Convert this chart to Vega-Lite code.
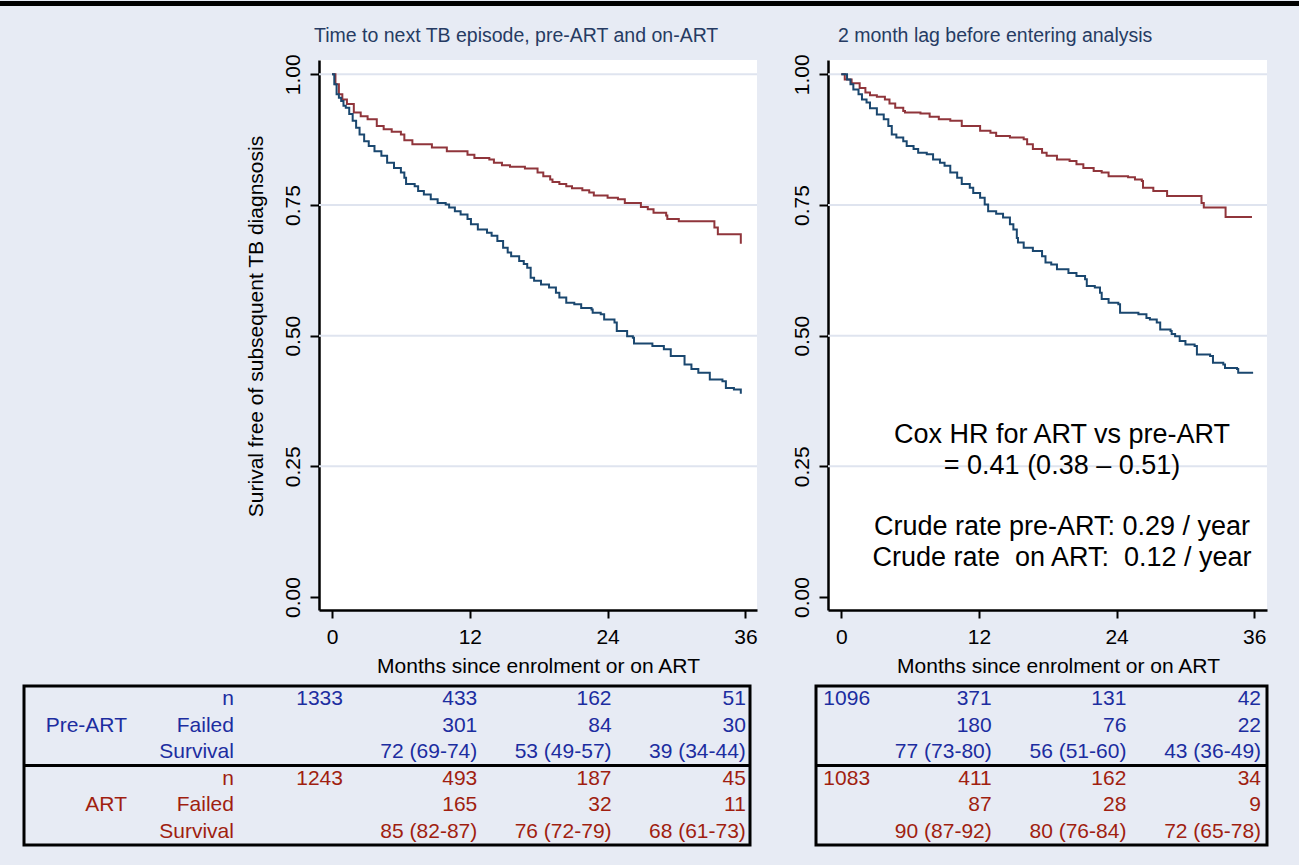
{
  "$schema": "https://vega.github.io/schema/vega-lite/v6.json",
  "background": "#e7ebf4",
  "padding": {"left": 0, "top": 0, "right": 0, "bottom": 18},
  "config": {
    "font": "Liberation Sans",
    "view": {"stroke": null},
    "axis": {"domainColor": "black", "domainWidth": 2.5, "tickColor": "black", "tickWidth": 2, "labelFontSize": 21, "labelColor": "black", "labelFont": "Liberation Sans", "titleFontSize": 21, "titleFontWeight": "normal", "titleColor": "black", "titleFont": "Liberation Sans", "grid": false, "labelFlush": false, "labelOverlap": false},
    "axisX": {"tickSize": 8, "labelPadding": 8, "titlePadding": 8},
    "axisY": {"tickSize": 9, "labelPadding": 11, "labelAngle": -90, "labelAlign": "center", "labelBaseline": "alphabetic", "titlePadding": 16},
    "title": {"fontSize": 19.5, "fontWeight": "normal", "color": "#263b63", "anchor": "start", "frame": "group", "offset": 7, "font": "Liberation Sans"}
  },
  "datasets": {
    "grid": [{"level": 0.25}, {"level": 0.5}, {"level": 0.75}, {"level": 1}],
    "km": [
      {"panel": "A", "group": "ART", "month": 0, "survival": 1},
      {"panel": "A", "group": "ART", "month": 0.3, "survival": 0.981},
      {"panel": "A", "group": "ART", "month": 0.6, "survival": 0.962},
      {"panel": "A", "group": "ART", "month": 0.9, "survival": 0.952},
      {"panel": "A", "group": "ART", "month": 1.3, "survival": 0.943},
      {"panel": "A", "group": "ART", "month": 1.9, "survival": 0.927},
      {"panel": "A", "group": "ART", "month": 2.5, "survival": 0.92},
      {"panel": "A", "group": "ART", "month": 3.1, "survival": 0.914},
      {"panel": "A", "group": "ART", "month": 3.9, "survival": 0.901},
      {"panel": "A", "group": "ART", "month": 4.5, "survival": 0.895},
      {"panel": "A", "group": "ART", "month": 5.2, "survival": 0.89},
      {"panel": "A", "group": "ART", "month": 6.0, "survival": 0.885},
      {"panel": "A", "group": "ART", "month": 6.3, "survival": 0.874},
      {"panel": "A", "group": "ART", "month": 7.0, "survival": 0.866},
      {"panel": "A", "group": "ART", "month": 8.7, "survival": 0.86},
      {"panel": "A", "group": "ART", "month": 10.0, "survival": 0.853},
      {"panel": "A", "group": "ART", "month": 11.8, "survival": 0.846},
      {"panel": "A", "group": "ART", "month": 12.4, "survival": 0.84},
      {"panel": "A", "group": "ART", "month": 13.7, "survival": 0.837},
      {"panel": "A", "group": "ART", "month": 14.1, "survival": 0.831},
      {"panel": "A", "group": "ART", "month": 14.8, "survival": 0.826},
      {"panel": "A", "group": "ART", "month": 15.5, "survival": 0.823},
      {"panel": "A", "group": "ART", "month": 16.8, "survival": 0.82},
      {"panel": "A", "group": "ART", "month": 17.9, "survival": 0.812},
      {"panel": "A", "group": "ART", "month": 18.4, "survival": 0.805},
      {"panel": "A", "group": "ART", "month": 19.0, "survival": 0.799},
      {"panel": "A", "group": "ART", "month": 19.2, "survival": 0.794},
      {"panel": "A", "group": "ART", "month": 19.8, "survival": 0.79},
      {"panel": "A", "group": "ART", "month": 20.4, "survival": 0.786},
      {"panel": "A", "group": "ART", "month": 20.9, "survival": 0.782},
      {"panel": "A", "group": "ART", "month": 21.8, "survival": 0.778},
      {"panel": "A", "group": "ART", "month": 22.4, "survival": 0.774},
      {"panel": "A", "group": "ART", "month": 22.8, "survival": 0.768},
      {"panel": "A", "group": "ART", "month": 24.0, "survival": 0.764},
      {"panel": "A", "group": "ART", "month": 24.9, "survival": 0.761},
      {"panel": "A", "group": "ART", "month": 25.5, "survival": 0.754},
      {"panel": "A", "group": "ART", "month": 26.9, "survival": 0.746},
      {"panel": "A", "group": "ART", "month": 27.5, "survival": 0.742},
      {"panel": "A", "group": "ART", "month": 28.0, "survival": 0.735},
      {"panel": "A", "group": "ART", "month": 29.1, "survival": 0.73},
      {"panel": "A", "group": "ART", "month": 29.2, "survival": 0.723},
      {"panel": "A", "group": "ART", "month": 30.2, "survival": 0.719},
      {"panel": "A", "group": "ART", "month": 33.3, "survival": 0.707},
      {"panel": "A", "group": "ART", "month": 33.6, "survival": 0.694},
      {"panel": "A", "group": "ART", "month": 35.6, "survival": 0.676},
      {"panel": "A", "group": "Pre-ART", "month": 0, "survival": 1},
      {"panel": "A", "group": "Pre-ART", "month": 0.2, "survival": 0.981},
      {"panel": "A", "group": "Pre-ART", "month": 0.4, "survival": 0.962},
      {"panel": "A", "group": "Pre-ART", "month": 0.6, "survival": 0.955},
      {"panel": "A", "group": "Pre-ART", "month": 0.8, "survival": 0.949},
      {"panel": "A", "group": "Pre-ART", "month": 1.0, "survival": 0.94},
      {"panel": "A", "group": "Pre-ART", "month": 1.2, "survival": 0.936},
      {"panel": "A", "group": "Pre-ART", "month": 1.5, "survival": 0.924},
      {"panel": "A", "group": "Pre-ART", "month": 1.8, "survival": 0.911},
      {"panel": "A", "group": "Pre-ART", "month": 2.1, "survival": 0.898},
      {"panel": "A", "group": "Pre-ART", "month": 2.4, "survival": 0.885},
      {"panel": "A", "group": "Pre-ART", "month": 2.8, "survival": 0.872},
      {"panel": "A", "group": "Pre-ART", "month": 3.2, "survival": 0.863},
      {"panel": "A", "group": "Pre-ART", "month": 3.7, "survival": 0.853},
      {"panel": "A", "group": "Pre-ART", "month": 4.3, "survival": 0.844},
      {"panel": "A", "group": "Pre-ART", "month": 4.8, "survival": 0.831},
      {"panel": "A", "group": "Pre-ART", "month": 5.4, "survival": 0.821},
      {"panel": "A", "group": "Pre-ART", "month": 6.0, "survival": 0.812},
      {"panel": "A", "group": "Pre-ART", "month": 6.3, "survival": 0.802},
      {"panel": "A", "group": "Pre-ART", "month": 6.45, "survival": 0.79},
      {"panel": "A", "group": "Pre-ART", "month": 7.2, "survival": 0.786},
      {"panel": "A", "group": "Pre-ART", "month": 7.5, "survival": 0.777},
      {"panel": "A", "group": "Pre-ART", "month": 8.0, "survival": 0.77},
      {"panel": "A", "group": "Pre-ART", "month": 8.6, "survival": 0.761},
      {"panel": "A", "group": "Pre-ART", "month": 9.2, "survival": 0.754},
      {"panel": "A", "group": "Pre-ART", "month": 9.9, "survival": 0.751},
      {"panel": "A", "group": "Pre-ART", "month": 10.2, "survival": 0.745},
      {"panel": "A", "group": "Pre-ART", "month": 10.7, "survival": 0.738},
      {"panel": "A", "group": "Pre-ART", "month": 11.2, "survival": 0.732},
      {"panel": "A", "group": "Pre-ART", "month": 11.8, "survival": 0.723},
      {"panel": "A", "group": "Pre-ART", "month": 12.1, "survival": 0.713},
      {"panel": "A", "group": "Pre-ART", "month": 12.7, "survival": 0.703},
      {"panel": "A", "group": "Pre-ART", "month": 13.5, "survival": 0.697},
      {"panel": "A", "group": "Pre-ART", "month": 13.9, "survival": 0.691},
      {"panel": "A", "group": "Pre-ART", "month": 14.4, "survival": 0.681},
      {"panel": "A", "group": "Pre-ART", "month": 14.9, "survival": 0.668},
      {"panel": "A", "group": "Pre-ART", "month": 15.3, "survival": 0.659},
      {"panel": "A", "group": "Pre-ART", "month": 15.6, "survival": 0.652},
      {"panel": "A", "group": "Pre-ART", "month": 16.3, "survival": 0.643},
      {"panel": "A", "group": "Pre-ART", "month": 16.7, "survival": 0.637},
      {"panel": "A", "group": "Pre-ART", "month": 17.0, "survival": 0.63},
      {"panel": "A", "group": "Pre-ART", "month": 17.3, "survival": 0.611},
      {"panel": "A", "group": "Pre-ART", "month": 17.6, "survival": 0.605},
      {"panel": "A", "group": "Pre-ART", "month": 18.2, "survival": 0.598},
      {"panel": "A", "group": "Pre-ART", "month": 18.9, "survival": 0.592},
      {"panel": "A", "group": "Pre-ART", "month": 19.5, "survival": 0.582},
      {"panel": "A", "group": "Pre-ART", "month": 19.8, "survival": 0.573},
      {"panel": "A", "group": "Pre-ART", "month": 20.4, "survival": 0.563},
      {"panel": "A", "group": "Pre-ART", "month": 21.1, "survival": 0.56},
      {"panel": "A", "group": "Pre-ART", "month": 21.7, "survival": 0.553},
      {"panel": "A", "group": "Pre-ART", "month": 22.6, "survival": 0.55},
      {"panel": "A", "group": "Pre-ART", "month": 22.7, "survival": 0.544},
      {"panel": "A", "group": "Pre-ART", "month": 23.4, "survival": 0.541},
      {"panel": "A", "group": "Pre-ART", "month": 23.7, "survival": 0.531},
      {"panel": "A", "group": "Pre-ART", "month": 24.6, "survival": 0.525},
      {"panel": "A", "group": "Pre-ART", "month": 24.8, "survival": 0.509},
      {"panel": "A", "group": "Pre-ART", "month": 25.7, "survival": 0.499},
      {"panel": "A", "group": "Pre-ART", "month": 26.2, "survival": 0.496},
      {"panel": "A", "group": "Pre-ART", "month": 26.3, "survival": 0.485},
      {"panel": "A", "group": "Pre-ART", "month": 27.9, "survival": 0.48},
      {"panel": "A", "group": "Pre-ART", "month": 28.9, "survival": 0.474},
      {"panel": "A", "group": "Pre-ART", "month": 29.5, "survival": 0.461},
      {"panel": "A", "group": "Pre-ART", "month": 30.7, "survival": 0.445},
      {"panel": "A", "group": "Pre-ART", "month": 31.3, "survival": 0.436},
      {"panel": "A", "group": "Pre-ART", "month": 31.9, "survival": 0.429},
      {"panel": "A", "group": "Pre-ART", "month": 32.9, "survival": 0.416},
      {"panel": "A", "group": "Pre-ART", "month": 34.0, "survival": 0.413},
      {"panel": "A", "group": "Pre-ART", "month": 34.3, "survival": 0.4},
      {"panel": "A", "group": "Pre-ART", "month": 35.0, "survival": 0.397},
      {"panel": "A", "group": "Pre-ART", "month": 35.6, "survival": 0.389},
      {"panel": "B", "group": "ART", "month": 0, "survival": 1},
      {"panel": "B", "group": "ART", "month": 0.3, "survival": 0.99},
      {"panel": "B", "group": "ART", "month": 0.9, "survival": 0.983},
      {"panel": "B", "group": "ART", "month": 1.6, "survival": 0.974},
      {"panel": "B", "group": "ART", "month": 2.1, "survival": 0.965},
      {"panel": "B", "group": "ART", "month": 2.5, "survival": 0.96},
      {"panel": "B", "group": "ART", "month": 3.1, "survival": 0.957},
      {"panel": "B", "group": "ART", "month": 3.8, "survival": 0.952},
      {"panel": "B", "group": "ART", "month": 4.2, "survival": 0.944},
      {"panel": "B", "group": "ART", "month": 4.7, "survival": 0.936},
      {"panel": "B", "group": "ART", "month": 5.4, "survival": 0.93},
      {"panel": "B", "group": "ART", "month": 5.55, "survival": 0.927},
      {"panel": "B", "group": "ART", "month": 6.9, "survival": 0.925},
      {"panel": "B", "group": "ART", "month": 7.7, "survival": 0.919},
      {"panel": "B", "group": "ART", "month": 8.5, "survival": 0.914},
      {"panel": "B", "group": "ART", "month": 9.5, "survival": 0.911},
      {"panel": "B", "group": "ART", "month": 10.5, "survival": 0.901},
      {"panel": "B", "group": "ART", "month": 12.1, "survival": 0.892},
      {"panel": "B", "group": "ART", "month": 13.0, "survival": 0.888},
      {"panel": "B", "group": "ART", "month": 13.5, "survival": 0.882},
      {"panel": "B", "group": "ART", "month": 14.7, "survival": 0.879},
      {"panel": "B", "group": "ART", "month": 15.9, "survival": 0.876},
      {"panel": "B", "group": "ART", "month": 16.2, "survival": 0.866},
      {"panel": "B", "group": "ART", "month": 16.7, "survival": 0.857},
      {"panel": "B", "group": "ART", "month": 17.5, "survival": 0.85},
      {"panel": "B", "group": "ART", "month": 17.9, "survival": 0.844},
      {"panel": "B", "group": "ART", "month": 18.8, "survival": 0.837},
      {"panel": "B", "group": "ART", "month": 19.9, "survival": 0.834},
      {"panel": "B", "group": "ART", "month": 20.5, "survival": 0.828},
      {"panel": "B", "group": "ART", "month": 21.1, "survival": 0.821},
      {"panel": "B", "group": "ART", "month": 22.0, "survival": 0.815},
      {"panel": "B", "group": "ART", "month": 22.7, "survival": 0.812},
      {"panel": "B", "group": "ART", "month": 23.3, "survival": 0.805},
      {"panel": "B", "group": "ART", "month": 25.0, "survival": 0.803},
      {"panel": "B", "group": "ART", "month": 25.6, "survival": 0.799},
      {"panel": "B", "group": "ART", "month": 26.2, "survival": 0.796},
      {"panel": "B", "group": "ART", "month": 26.3, "survival": 0.783},
      {"panel": "B", "group": "ART", "month": 27.2, "survival": 0.777},
      {"panel": "B", "group": "ART", "month": 28.4, "survival": 0.767},
      {"panel": "B", "group": "ART", "month": 31.4, "survival": 0.754},
      {"panel": "B", "group": "ART", "month": 31.6, "survival": 0.745},
      {"panel": "B", "group": "ART", "month": 33.5, "survival": 0.727},
      {"panel": "B", "group": "ART", "month": 35.8, "survival": 0.727},
      {"panel": "B", "group": "Pre-ART", "month": 0, "survival": 1},
      {"panel": "B", "group": "Pre-ART", "month": 0.5, "survival": 0.99},
      {"panel": "B", "group": "Pre-ART", "month": 0.8, "survival": 0.981},
      {"panel": "B", "group": "Pre-ART", "month": 1.05, "survival": 0.971},
      {"panel": "B", "group": "Pre-ART", "month": 1.5, "survival": 0.962},
      {"panel": "B", "group": "Pre-ART", "month": 1.8, "survival": 0.952},
      {"panel": "B", "group": "Pre-ART", "month": 2.2, "survival": 0.946},
      {"panel": "B", "group": "Pre-ART", "month": 2.5, "survival": 0.935},
      {"panel": "B", "group": "Pre-ART", "month": 3.1, "survival": 0.923},
      {"panel": "B", "group": "Pre-ART", "month": 3.7, "survival": 0.914},
      {"panel": "B", "group": "Pre-ART", "month": 4.1, "survival": 0.901},
      {"panel": "B", "group": "Pre-ART", "month": 4.4, "survival": 0.885},
      {"panel": "B", "group": "Pre-ART", "month": 4.8, "survival": 0.879},
      {"panel": "B", "group": "Pre-ART", "month": 5.4, "survival": 0.872},
      {"panel": "B", "group": "Pre-ART", "month": 5.7, "survival": 0.863},
      {"panel": "B", "group": "Pre-ART", "month": 6.3, "survival": 0.857},
      {"panel": "B", "group": "Pre-ART", "month": 6.7, "survival": 0.85},
      {"panel": "B", "group": "Pre-ART", "month": 7.45, "survival": 0.847},
      {"panel": "B", "group": "Pre-ART", "month": 8.0, "survival": 0.837},
      {"panel": "B", "group": "Pre-ART", "month": 8.6, "survival": 0.831},
      {"panel": "B", "group": "Pre-ART", "month": 9.0, "survival": 0.825},
      {"panel": "B", "group": "Pre-ART", "month": 9.5, "survival": 0.812},
      {"panel": "B", "group": "Pre-ART", "month": 10.1, "survival": 0.802},
      {"panel": "B", "group": "Pre-ART", "month": 10.5, "survival": 0.79},
      {"panel": "B", "group": "Pre-ART", "month": 11.2, "survival": 0.783},
      {"panel": "B", "group": "Pre-ART", "month": 11.5, "survival": 0.773},
      {"panel": "B", "group": "Pre-ART", "month": 12.1, "survival": 0.764},
      {"panel": "B", "group": "Pre-ART", "month": 12.5, "survival": 0.751},
      {"panel": "B", "group": "Pre-ART", "month": 12.8, "survival": 0.738},
      {"panel": "B", "group": "Pre-ART", "month": 13.5, "survival": 0.733},
      {"panel": "B", "group": "Pre-ART", "month": 14.1, "survival": 0.726},
      {"panel": "B", "group": "Pre-ART", "month": 14.7, "survival": 0.713},
      {"panel": "B", "group": "Pre-ART", "month": 15.0, "survival": 0.703},
      {"panel": "B", "group": "Pre-ART", "month": 15.3, "survival": 0.687},
      {"panel": "B", "group": "Pre-ART", "month": 15.4, "survival": 0.678},
      {"panel": "B", "group": "Pre-ART", "month": 15.9, "survival": 0.668},
      {"panel": "B", "group": "Pre-ART", "month": 16.7, "survival": 0.662},
      {"panel": "B", "group": "Pre-ART", "month": 17.5, "survival": 0.652},
      {"panel": "B", "group": "Pre-ART", "month": 17.8, "survival": 0.64},
      {"panel": "B", "group": "Pre-ART", "month": 18.3, "survival": 0.636},
      {"panel": "B", "group": "Pre-ART", "month": 18.8, "survival": 0.627},
      {"panel": "B", "group": "Pre-ART", "month": 19.8, "survival": 0.62},
      {"panel": "B", "group": "Pre-ART", "month": 20.5, "survival": 0.614},
      {"panel": "B", "group": "Pre-ART", "month": 21.25, "survival": 0.608},
      {"panel": "B", "group": "Pre-ART", "month": 21.4, "survival": 0.595},
      {"panel": "B", "group": "Pre-ART", "month": 22.1, "survival": 0.592},
      {"panel": "B", "group": "Pre-ART", "month": 22.55, "survival": 0.582},
      {"panel": "B", "group": "Pre-ART", "month": 22.7, "survival": 0.57},
      {"panel": "B", "group": "Pre-ART", "month": 23.3, "survival": 0.563},
      {"panel": "B", "group": "Pre-ART", "month": 24.15, "survival": 0.56},
      {"panel": "B", "group": "Pre-ART", "month": 24.3, "survival": 0.544},
      {"panel": "B", "group": "Pre-ART", "month": 25.9, "survival": 0.541},
      {"panel": "B", "group": "Pre-ART", "month": 26.6, "survival": 0.534},
      {"panel": "B", "group": "Pre-ART", "month": 26.9, "survival": 0.531},
      {"panel": "B", "group": "Pre-ART", "month": 27.5, "survival": 0.525},
      {"panel": "B", "group": "Pre-ART", "month": 27.8, "survival": 0.512},
      {"panel": "B", "group": "Pre-ART", "month": 28.7, "survival": 0.509},
      {"panel": "B", "group": "Pre-ART", "month": 28.8, "survival": 0.503},
      {"panel": "B", "group": "Pre-ART", "month": 29.1, "survival": 0.499},
      {"panel": "B", "group": "Pre-ART", "month": 29.5, "survival": 0.49},
      {"panel": "B", "group": "Pre-ART", "month": 30.0, "survival": 0.483},
      {"panel": "B", "group": "Pre-ART", "month": 30.8, "survival": 0.48},
      {"panel": "B", "group": "Pre-ART", "month": 31.0, "survival": 0.464},
      {"panel": "B", "group": "Pre-ART", "month": 32.15, "survival": 0.461},
      {"panel": "B", "group": "Pre-ART", "month": 32.4, "survival": 0.448},
      {"panel": "B", "group": "Pre-ART", "month": 33.3, "survival": 0.445},
      {"panel": "B", "group": "Pre-ART", "month": 33.45, "survival": 0.438},
      {"panel": "B", "group": "Pre-ART", "month": 34.5, "survival": 0.436},
      {"panel": "B", "group": "Pre-ART", "month": 34.6, "survival": 0.429},
      {"panel": "B", "group": "Pre-ART", "month": 35.9, "survival": 0.429}
    ],
    "tab": [
      {"panel": "A", "group": "Pre-ART", "stat": "n", "month": 0, "value": "1333"},
      {"panel": "A", "group": "Pre-ART", "stat": "n", "month": 12, "value": "433"},
      {"panel": "A", "group": "Pre-ART", "stat": "n", "month": 24, "value": "162"},
      {"panel": "A", "group": "Pre-ART", "stat": "n", "month": 36, "value": "51"},
      {"panel": "A", "group": "Pre-ART", "stat": "Failed", "month": 12, "value": "301"},
      {"panel": "A", "group": "Pre-ART", "stat": "Failed", "month": 24, "value": "84"},
      {"panel": "A", "group": "Pre-ART", "stat": "Failed", "month": 36, "value": "30"},
      {"panel": "A", "group": "Pre-ART", "stat": "Survival", "month": 12, "value": "72 (69-74)"},
      {"panel": "A", "group": "Pre-ART", "stat": "Survival", "month": 24, "value": "53 (49-57)"},
      {"panel": "A", "group": "Pre-ART", "stat": "Survival", "month": 36, "value": "39 (34-44)"},
      {"panel": "A", "group": "ART", "stat": "n", "month": 0, "value": "1243"},
      {"panel": "A", "group": "ART", "stat": "n", "month": 12, "value": "493"},
      {"panel": "A", "group": "ART", "stat": "n", "month": 24, "value": "187"},
      {"panel": "A", "group": "ART", "stat": "n", "month": 36, "value": "45"},
      {"panel": "A", "group": "ART", "stat": "Failed", "month": 12, "value": "165"},
      {"panel": "A", "group": "ART", "stat": "Failed", "month": 24, "value": "32"},
      {"panel": "A", "group": "ART", "stat": "Failed", "month": 36, "value": "11"},
      {"panel": "A", "group": "ART", "stat": "Survival", "month": 12, "value": "85 (82-87)"},
      {"panel": "A", "group": "ART", "stat": "Survival", "month": 24, "value": "76 (72-79)"},
      {"panel": "A", "group": "ART", "stat": "Survival", "month": 36, "value": "68 (61-73)"},
      {"panel": "B", "group": "Pre-ART", "stat": "n", "month": 0, "value": "1096"},
      {"panel": "B", "group": "Pre-ART", "stat": "n", "month": 12, "value": "371"},
      {"panel": "B", "group": "Pre-ART", "stat": "n", "month": 24, "value": "131"},
      {"panel": "B", "group": "Pre-ART", "stat": "n", "month": 36, "value": "42"},
      {"panel": "B", "group": "Pre-ART", "stat": "Failed", "month": 12, "value": "180"},
      {"panel": "B", "group": "Pre-ART", "stat": "Failed", "month": 24, "value": "76"},
      {"panel": "B", "group": "Pre-ART", "stat": "Failed", "month": 36, "value": "22"},
      {"panel": "B", "group": "Pre-ART", "stat": "Survival", "month": 12, "value": "77 (73-80)"},
      {"panel": "B", "group": "Pre-ART", "stat": "Survival", "month": 24, "value": "56 (51-60)"},
      {"panel": "B", "group": "Pre-ART", "stat": "Survival", "month": 36, "value": "43 (36-49)"},
      {"panel": "B", "group": "ART", "stat": "n", "month": 0, "value": "1083"},
      {"panel": "B", "group": "ART", "stat": "n", "month": 12, "value": "411"},
      {"panel": "B", "group": "ART", "stat": "n", "month": 24, "value": "162"},
      {"panel": "B", "group": "ART", "stat": "n", "month": 36, "value": "34"},
      {"panel": "B", "group": "ART", "stat": "Failed", "month": 12, "value": "87"},
      {"panel": "B", "group": "ART", "stat": "Failed", "month": 24, "value": "28"},
      {"panel": "B", "group": "ART", "stat": "Failed", "month": 36, "value": "9"},
      {"panel": "B", "group": "ART", "stat": "Survival", "month": 12, "value": "90 (87-92)"},
      {"panel": "B", "group": "ART", "stat": "Survival", "month": 24, "value": "80 (76-84)"},
      {"panel": "B", "group": "ART", "stat": "Survival", "month": 36, "value": "72 (65-78)"}
    ]
  },
  "spacing": 19,
  "vconcat": [
    {
      "width": 1299, "height": 5,
      "view": {"fill": "black", "stroke": null},
      "data": {"values": [{}]},
      "mark": {"type": "point", "opacity": 0},
      "encoding": {}
    },
    {
      "spacing": 8,
      "vconcat": [
        {
          "spacing": 33,
          "hconcat": [
            {
              "width": 212, "height": 10,
              "data": {"values": [{}]},
              "mark": {"type": "point", "opacity": 0},
              "encoding": {}
            },
            {
              "width": 438, "height": 550,
              "view": {"fill": "white", "stroke": null},
              "title": {"text": "Time to next TB episode, pre-ART and on-ART", "dx": -5},
              "layer": [
                {
                  "data": {"name": "grid"},
                  "mark": {"type": "rule", "color": "#dfe4ef", "strokeWidth": 2},
                  "encoding": {
                    "y": {"field": "level", "type": "quantitative", "scale": {"domain": [-0.0249, 1.0274], "nice": false, "zero": false}, "axis": {"title": "Surival free of subsequent TB diagnsosis", "values": [0, 0.25, 0.5, 0.75, 1], "format": ".2f", "titleY": 266}}
                  }
                },
                {
                  "data": {"name": "km"},
                  "transform": [{"filter": "datum.panel == 'A'"}],
                  "mark": {"type": "line", "interpolate": "step-after", "strokeWidth": 2},
                  "encoding": {
                    "x": {"field": "month", "type": "quantitative", "scale": {"domain": [-1.132, 37.01], "nice": false, "zero": false}, "axis": {"title": "Months since enrolment or on ART", "values": [0, 12, 24, 36]}},
                    "y": {"field": "survival", "type": "quantitative", "scale": {"domain": [-0.0249, 1.0274], "nice": false, "zero": false}, "axis": {"title": "Surival free of subsequent TB diagnsosis", "values": [0, 0.25, 0.5, 0.75, 1], "format": ".2f", "titleY": 266}},
                    "color": {"field": "group", "type": "nominal", "scale": {"domain": ["Pre-ART", "ART"], "range": ["#1a476f", "#90353b"]}, "legend": null}
                  }
                }
              ]
            },
            {
              "width": 439, "height": 550,
              "view": {"fill": "white", "stroke": null},
              "title": {"text": "2 month lag before entering analysis", "dx": 10},
              "layer": [
                {
                  "data": {"name": "grid"},
                  "mark": {"type": "rule", "color": "#dfe4ef", "strokeWidth": 2},
                  "encoding": {
                    "y": {"field": "level", "type": "quantitative", "scale": {"domain": [-0.0249, 1.0274], "nice": false, "zero": false}, "axis": {"title": null, "values": [0, 0.25, 0.5, 0.75, 1], "format": ".2f"}}
                  }
                },
                {
                  "data": {"name": "km"},
                  "transform": [{"filter": "datum.panel == 'B'"}],
                  "mark": {"type": "line", "interpolate": "step-after", "strokeWidth": 2},
                  "encoding": {
                    "x": {"field": "month", "type": "quantitative", "scale": {"domain": [-1.16, 37.11], "nice": false, "zero": false}, "axis": {"title": "Months since enrolment or on ART", "values": [0, 12, 24, 36], "titleX": 230}},
                    "y": {"field": "survival", "type": "quantitative", "scale": {"domain": [-0.0249, 1.0274], "nice": false, "zero": false}, "axis": {"title": null, "values": [0, 0.25, 0.5, 0.75, 1], "format": ".2f"}},
                    "color": {"field": "group", "type": "nominal", "scale": {"domain": ["Pre-ART", "ART"], "range": ["#1a476f", "#90353b"]}, "legend": null}
                  }
                },
                {
                  "data": {"values": [{}]},
                  "mark": {"type": "text", "text": ["Cox HR for ART vs pre-ART", "= 0.41 (0.38 – 0.51)"], "fontSize": 27, "align": "center", "baseline": "alphabetic", "lineHeight": 31, "color": "black", "font": "Liberation Sans"},
                  "encoding": {"x": {"datum": 19.24}, "y": {"datum": 0.2952}}
                },
                {
                  "data": {"values": [{}]},
                  "mark": {"type": "text", "text": ["Crude rate pre-ART: 0.29 / year", "Crude rate \u00a0on ART: \u00a00.12 / year"], "fontSize": 27, "align": "center", "baseline": "alphabetic", "lineHeight": 31, "color": "black", "font": "Liberation Sans"},
                  "encoding": {"x": {"datum": 19.24}, "y": {"datum": 0.1186}}
                }
              ]
            }
          ]
        },
        {
          "spacing": 0,
          "hconcat": [
            {
              "width": 21, "height": 10,
              "data": {"values": [{}]},
              "mark": {"type": "point", "opacity": 0},
              "encoding": {}
            },
            {
              "spacing": 60,
              "hconcat": [
                {
                  "width": 726, "height": 159,
                  "view": {"stroke": "black", "strokeWidth": 3},
                  "layer": [
                    {
                      "data": {"name": "tab"},
                      "transform": [{"filter": "datum.panel == 'A'"}],
                      "mark": {"type": "text", "align": "right", "baseline": "middle", "fontSize": 21},
                      "encoding": {
                        "x": {"field": "month", "type": "quantitative", "scale": {"domain": [-28.5, 36.37], "nice": false, "zero": false}, "axis": null},
                        "y": {"field": "group", "type": "nominal", "scale": {"domain": ["Pre-ART", "ART"], "paddingInner": 0, "paddingOuter": 0}, "axis": null},
                        "yOffset": {"field": "stat", "type": "nominal", "scale": {"domain": ["n", "Failed", "Survival"], "padding": 0.5}},
                        "text": {"field": "value"},
                        "color": {"condition": {"test": "datum.group == 'ART'", "value": "#a01e10"}, "value": "#1c2da0"}
                      }
                    },
                    {
                      "data": {"name": "tab"},
                      "transform": [{"filter": "datum.panel == 'A'"}, {"aggregate": [{"op": "count", "as": "k"}], "groupby": ["group", "stat"]}],
                      "mark": {"type": "text", "align": "right", "baseline": "middle", "fontSize": 21},
                      "encoding": {
                        "x": {"datum": -9.74},
                        "y": {"field": "group", "type": "nominal", "axis": null},
                        "yOffset": {"field": "stat", "type": "nominal"},
                        "text": {"field": "stat"},
                        "color": {"condition": {"test": "datum.group == 'ART'", "value": "#a01e10"}, "value": "#1c2da0"}
                      }
                    },
                    {
                      "data": {"name": "tab"},
                      "transform": [{"filter": "datum.panel == 'A'"}, {"aggregate": [{"op": "count", "as": "k"}], "groupby": ["group"]}],
                      "mark": {"type": "text", "align": "right", "baseline": "middle", "fontSize": 21},
                      "encoding": {
                        "x": {"datum": -19.3},
                        "y": {"field": "group", "type": "nominal", "axis": null},
                        "text": {"field": "group"},
                        "color": {"condition": {"test": "datum.group == 'ART'", "value": "#a01e10"}, "value": "#1c2da0"}
                      }
                    },
                    {
                      "data": {"values": [{}]},
                      "mark": {"type": "rule", "color": "black", "strokeWidth": 3},
                      "encoding": {"y": {"datum": "ART", "type": "nominal", "bandPosition": 0}}
                    }
                  ]
                },
                {
                  "width": 451, "height": 159,
                  "view": {"stroke": "black", "strokeWidth": 3},
                  "layer": [
                    {
                      "data": {"name": "tab"},
                      "transform": [{"filter": "datum.panel == 'B' && datum.month > 0"}],
                      "mark": {"type": "text", "align": "right", "baseline": "middle", "fontSize": 21},
                      "encoding": {
                        "x": {"field": "month", "type": "quantitative", "scale": {"domain": [-3.66, 36.53], "nice": false, "zero": false}, "axis": null},
                        "y": {"field": "group", "type": "nominal", "scale": {"domain": ["Pre-ART", "ART"], "paddingInner": 0, "paddingOuter": 0}, "axis": null},
                        "yOffset": {"field": "stat", "type": "nominal", "scale": {"domain": ["n", "Failed", "Survival"], "padding": 0.5}},
                        "text": {"field": "value"},
                        "color": {"condition": {"test": "datum.group == 'ART'", "value": "#a01e10"}, "value": "#1c2da0"}
                      }
                    },
                    {
                      "data": {"name": "tab"},
                      "transform": [{"filter": "datum.panel == 'B' && datum.month == 0"}],
                      "mark": {"type": "text", "align": "right", "baseline": "middle", "fontSize": 21, "dx": 13},
                      "encoding": {
                        "x": {"field": "month", "type": "quantitative", "axis": null},
                        "y": {"field": "group", "type": "nominal", "axis": null},
                        "yOffset": {"field": "stat", "type": "nominal"},
                        "text": {"field": "value"},
                        "color": {"condition": {"test": "datum.group == 'ART'", "value": "#a01e10"}, "value": "#1c2da0"}
                      }
                    },
                    {
                      "data": {"values": [{}]},
                      "mark": {"type": "rule", "color": "black", "strokeWidth": 3},
                      "encoding": {"y": {"datum": "ART", "type": "nominal", "bandPosition": 0}}
                    }
                  ]
                }
              ]
            }
          ]
        }
      ]
    }
  ]
}
